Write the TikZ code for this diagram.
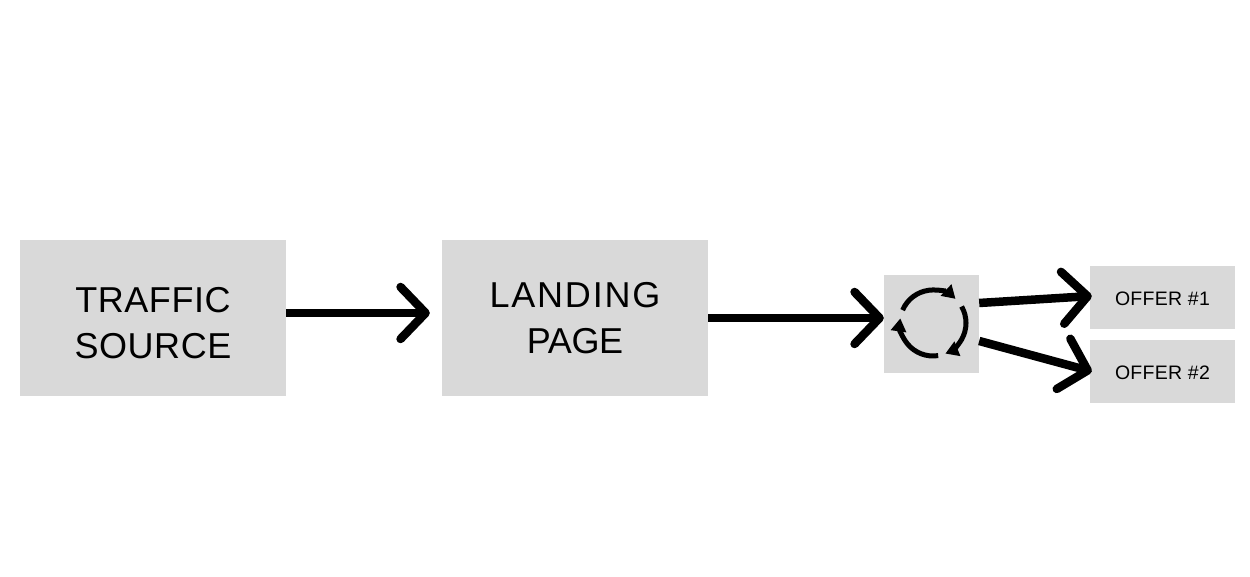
\documentclass[tikz,border=0pt]{standalone}
\usepackage{fontspec}
\setmainfont{Liberation Sans}[LetterSpace=1.5]
\usetikzlibrary{positioning,arrows.meta}
\begin{document}
\begin{tikzpicture}[
  x=1pt, y=1pt,
  box/.style={fill=boxgray, inner sep=0pt, align=center},
  bigbox/.style={box, minimum width=266pt, minimum height=156pt},
  bigtext/.style={inner sep=0pt, align=center, font=\fontsize{36}{46}\selectfont},
  offer/.style={box, minimum width=145pt, minimum height=63pt,
                text height=17pt, text depth=0pt,
                font=\fontsize{19.5}{24}\selectfont},
  flow/.style={-{Straight Barb[round,length=25pt,width=52pt]}, line width=8.5pt},
  cycle/.style={-{Triangle[length=13pt,width=15pt]}, line width=5pt},
]
\definecolor{boxgray}{HTML}{D9D9D9}
\useasboundingbox (0,0) rectangle (1250,577);
\node[bigbox] (ts) at (153,259) {};
\node[bigtext] (tslabel) at (153,254) {TRAFFIC\\SOURCE};
\node[bigbox] (lp) at (575,259) {};
\node[bigtext] (lplabel) at (575,259) {{\addfontfeature{LetterSpace=5}LANDING}\\{\addfontfeature{LetterSpace=-1}PAGE}};
\node[box, minimum width=95pt, minimum height=98pt] (rot) at (931.5,253) {};
\node[offer] (of1) at (1162.5,279.5) {OFFER \#1};
\node[offer] (of2) at (1162.5,205.5) {OFFER \#2};

% flow
\draw[flow, shorten >=12pt] ([yshift=5pt]ts.east) -- ([yshift=5pt]lp.west);
\draw[flow] (lp.east) -- ([yshift=6pt]rot.west);
\draw[flow] ([yshift=21pt]rot.east) -- ([xshift=2pt,yshift=1.5pt]of1.west);
\draw[flow] ([yshift=-17pt]rot.east) -- ([xshift=2pt]of2.west);

% rotator
\foreach \from/\to in {157/47, 30/-68, -81/-188}
  \draw[cycle] ([xshift=1.5pt,yshift=1pt]rot.center) ++(\from:33pt)
    arc[start angle=\from, end angle=\to, radius=33pt];
\end{tikzpicture}
\end{document}
